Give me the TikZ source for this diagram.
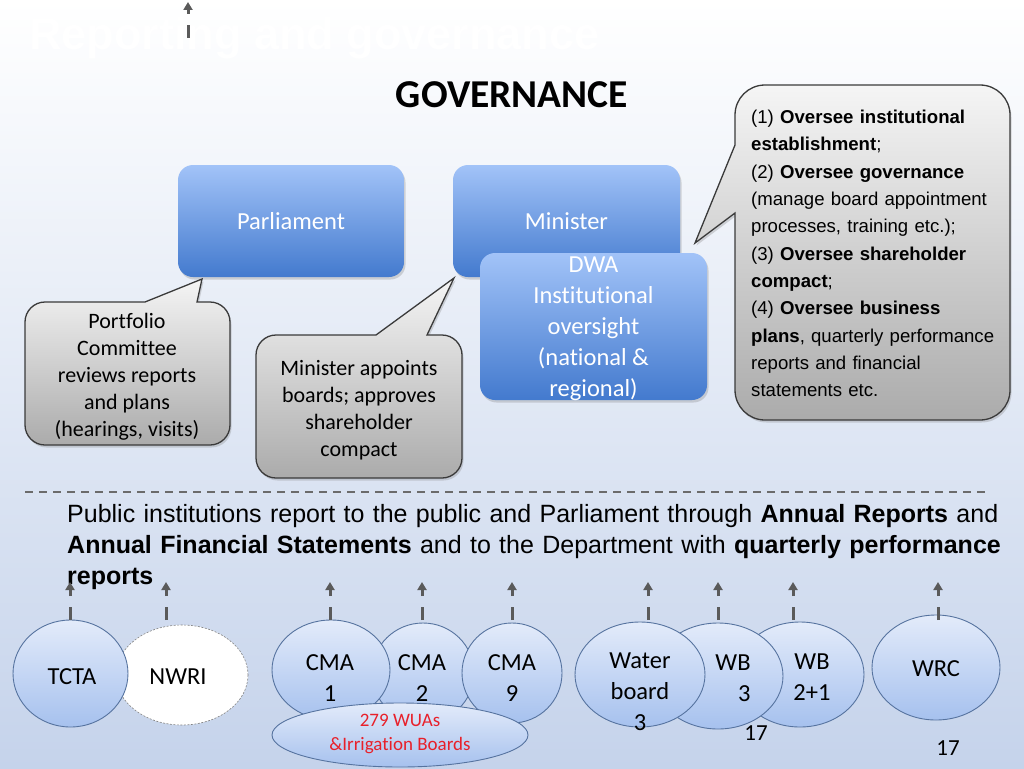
\documentclass[tikz,border=0pt]{standalone}
\usepackage{fontspec}
\setmainfont{Carlito}[Ligatures=NoCommon]
\newfontfamily\arialf{Liberation Sans}
\usetikzlibrary{shapes.geometric,arrows.meta,shadows}
\definecolor{bgtop}{HTML}{FFFFFF}
\definecolor{bgbot}{HTML}{C5D3EB}
\definecolor{bluetop}{HTML}{A2C3F8}
\definecolor{bluebot}{HTML}{437ACE}
\definecolor{graytop}{HTML}{F5F5F5}
\definecolor{graybot}{HTML}{ABABAB}
\definecolor{calline}{HTML}{3A3A3A}
\definecolor{elltop}{HTML}{E3EBFA}
\definecolor{ellbot}{HTML}{A6C1EE}
\definecolor{ellline}{HTML}{56739F}
\definecolor{arrgray}{HTML}{5A5A5A}
\definecolor{wuared}{HTML}{E8202A}
\begin{document}
\begin{tikzpicture}[x=1pt,y=-1pt,
  bluebox/.style={rectangle, rounded corners=15pt, top color=bluetop, bottom color=bluebot, draw=none, text=white,
    font=\fontsize{24.5}{31}\selectfont, align=center, inner sep=0pt,
    drop shadow={opacity=0.3,shadow xshift=1.5pt,shadow yshift=-2.5pt}},
  callout/.style={draw=calline, line width=1.3pt, top color=graytop, bottom color=graybot,
    drop shadow={opacity=0.3,shadow xshift=1.5pt,shadow yshift=-2.5pt}},
  ell/.style={ellipse, draw=ellline, line width=0.9pt, top color=elltop, bottom color=ellbot, inner sep=0pt},
  lbl/.style={font=\fontsize{24.5}{31}\selectfont, align=center, inner sep=0pt},
  ctext/.style={font=\fontsize{22}{27}\selectfont, align=center, inner sep=0pt},
  rep/.style={draw=arrgray, line width=3pt, dash pattern=on 13pt off 11pt, -{Triangle[width=9pt,length=8pt]}},
]
\useasboundingbox (0,0) rectangle (1024,768);
\shade[top color=bgtop, bottom color=bgbot] (0,0) rectangle (1024,768);

% title
\node[anchor=west, text=white, font=\arialf\bfseries\fontsize{45}{50}\selectfont, inner sep=0pt] (title) at (29,38) {Reporting and governance};
\coordinate (t0) at (188,38);
\coordinate (t1) at (188,2);
\draw[rep] (t0) -- (t1);

\node[font=\bfseries\fontsize{39.5}{44}\selectfont, inner sep=0pt] (gov) at (512,95) {GOVERNANCE};

% blue boxes
\node[bluebox, minimum width=226pt, minimum height=112pt] (parl) at (291,221) {Parliament};
\node[bluebox, minimum width=227pt, minimum height=112pt] (min) at (566.5,221) {Minister};
\node[bluebox, minimum width=227pt, minimum height=147pt] (dwa) at (593.5,326.5) {};
\node[font=\fontsize{24.5}{31}\selectfont, text=white, align=center, inner sep=0pt] (dwa-t) at (593.5,329) {DWA\\Institutional\\oversight\\(national \&\\regional)};

% callouts
\path[callout] (25,322) .. controls (25,311) and (34,302) .. (45,302) -- (145,302) -- (202,279) -- (197,302) -- (210,302)
  .. controls (221,302) and (230,311) .. (230,322) -- (230,425) .. controls (230,436) and (221,445) .. (210,445)
  -- (45,445) .. controls (34,445) and (25,436) .. (25,425) -- cycle;
\node[ctext] (pc) at (127,377) {Portfolio\\Committee\\reviews reports\\and plans\\(hearings, visits)};

\path[callout] (256,355) .. controls (256,344) and (265,335) .. (276,335) -- (376,335) -- (454,278) -- (427,335) -- (442,335)
  .. controls (453,335) and (462,344) .. (462,355) -- (462,458) .. controls (462,469) and (453,478) .. (442,478)
  -- (276,478) .. controls (265,478) and (256,469) .. (256,458) -- cycle;
\node[ctext] (ma) at (359,410.5) {Minister appoints\\boards; approves\\shareholder\\compact};

\path[callout] (735,115) .. controls (735,98.4) and (748.4,85) .. (765,85) -- (980,85)
  .. controls (996.6,85) and (1010,98.4) .. (1010,115) -- (1010,390)
  .. controls (1010,406.6) and (996.6,420) .. (980,420) -- (765,420)
  .. controls (748.4,420) and (735,406.6) .. (735,390) -- (735,213) -- (695,243) -- (735,145) -- cycle;
\node[anchor=north west, inner sep=0pt, align=left, text width=262pt, font=\arialf\fontsize{18.6}{27.3}\selectfont] (ov) at (751,110)
 {(1) \textbf{Oversee institutional}\\
  \textbf{establishment};\\
  (2) \textbf{Oversee governance}\\
  (manage board appointment\\
  processes, training etc.);\\
  (3) \textbf{Oversee shareholder}\\
  \textbf{compact};\\
  (4) \textbf{Oversee business}\\
  \textbf{plans}, quarterly performance\\
  reports and financial\\
  statements etc.};

% divider
\coordinate (d0) at (25,492);
\coordinate (d1) at (985,492);
\draw[draw=arrgray!90, line width=1.4pt, dash pattern=on 8pt off 6pt] (d0) -- (d1);

\node[anchor=north west, inner sep=0pt, align=left, text width=1000pt, font=\arialf\fontsize{25}{31}\selectfont] (para) at (67,504)
 {Public institutions report to the public and Parliament through \textbf{Annual Reports} and\\
  \textbf{Annual Financial Statements} and to the Department with \textbf{quarterly performance}\\
  \textbf{reports}};

% ellipses
\node[ellipse, draw=gray, dash pattern=on 2pt off 1.5pt, line width=0.6pt, fill=white, minimum width=132pt, minimum height=100pt, inner sep=0pt] (nwri) at (182,675) {};
\node[ell, minimum width=115pt, minimum height=107pt] (tcta) at (70.5,673.5) {};
\node[ell, minimum width=102pt, minimum height=100pt] (cma2) at (423,673) {};
\node[ell, minimum width=118pt, minimum height=100pt] (cma1) at (331,670) {};
\node[ell, minimum width=100pt, minimum height=100pt] (cma9) at (512,673) {};
\node[ell, minimum width=256pt, minimum height=64pt] (wua) at (400,735) {};
\node[ell, minimum width=128pt, minimum height=105pt] (wb21) at (800,674.5) {};
\node[ell, minimum width=130pt, minimum height=106pt] (wb3) at (718,676) {};
\node[ell, minimum width=130pt, minimum height=105pt] (water) at (640,674.5) {};
\node[ell, minimum width=128pt, minimum height=105pt] (wrc) at (936,667.5) {};

\node[lbl] (tcta-t) at (72,677) {TCTA};
\node[lbl] (nwri-t) at (178,677) {NWRI};
\node[lbl] (cma1-t) at (330,678.5) {CMA\\1};
\node[lbl] (cma2-t) at (422,678.5) {CMA\\2};
\node[lbl] (cma9-t) at (512,678.5) {CMA\\9};
\node[lbl] (water-t) at (640,692) {Water\\board\\3};
\node[lbl, align=right] (wb3-t) at (733,678.5) {WB\\3};
\node[lbl] (wb21-t) at (812,677) {WB\\2+1};
\node[lbl] (wrc-t) at (936,669) {WRC};
\node[font=\fontsize{19}{24}\selectfont, text=wuared, align=center, inner sep=0pt] (wua-t) at (400,734) {279 WUAs\\\&Irrigation Boards};

\node[font=\fontsize{23}{28}\selectfont, inner sep=0pt] (n17a) at (756,733) {17};
\node[font=\fontsize{23}{28}\selectfont, inner sep=0pt] (n17b) at (948,748) {17};

% reporting arrows
\foreach \i/\x in {1/70,2/166,3/330,4/422,5/512,6/648,7/718,8/793,9/938}{
  \coordinate (b\i) at (\x,620);
  \coordinate (e\i) at (\x,582);
  \draw[rep] (b\i) -- (e\i);
}
\end{tikzpicture}
\end{document}
